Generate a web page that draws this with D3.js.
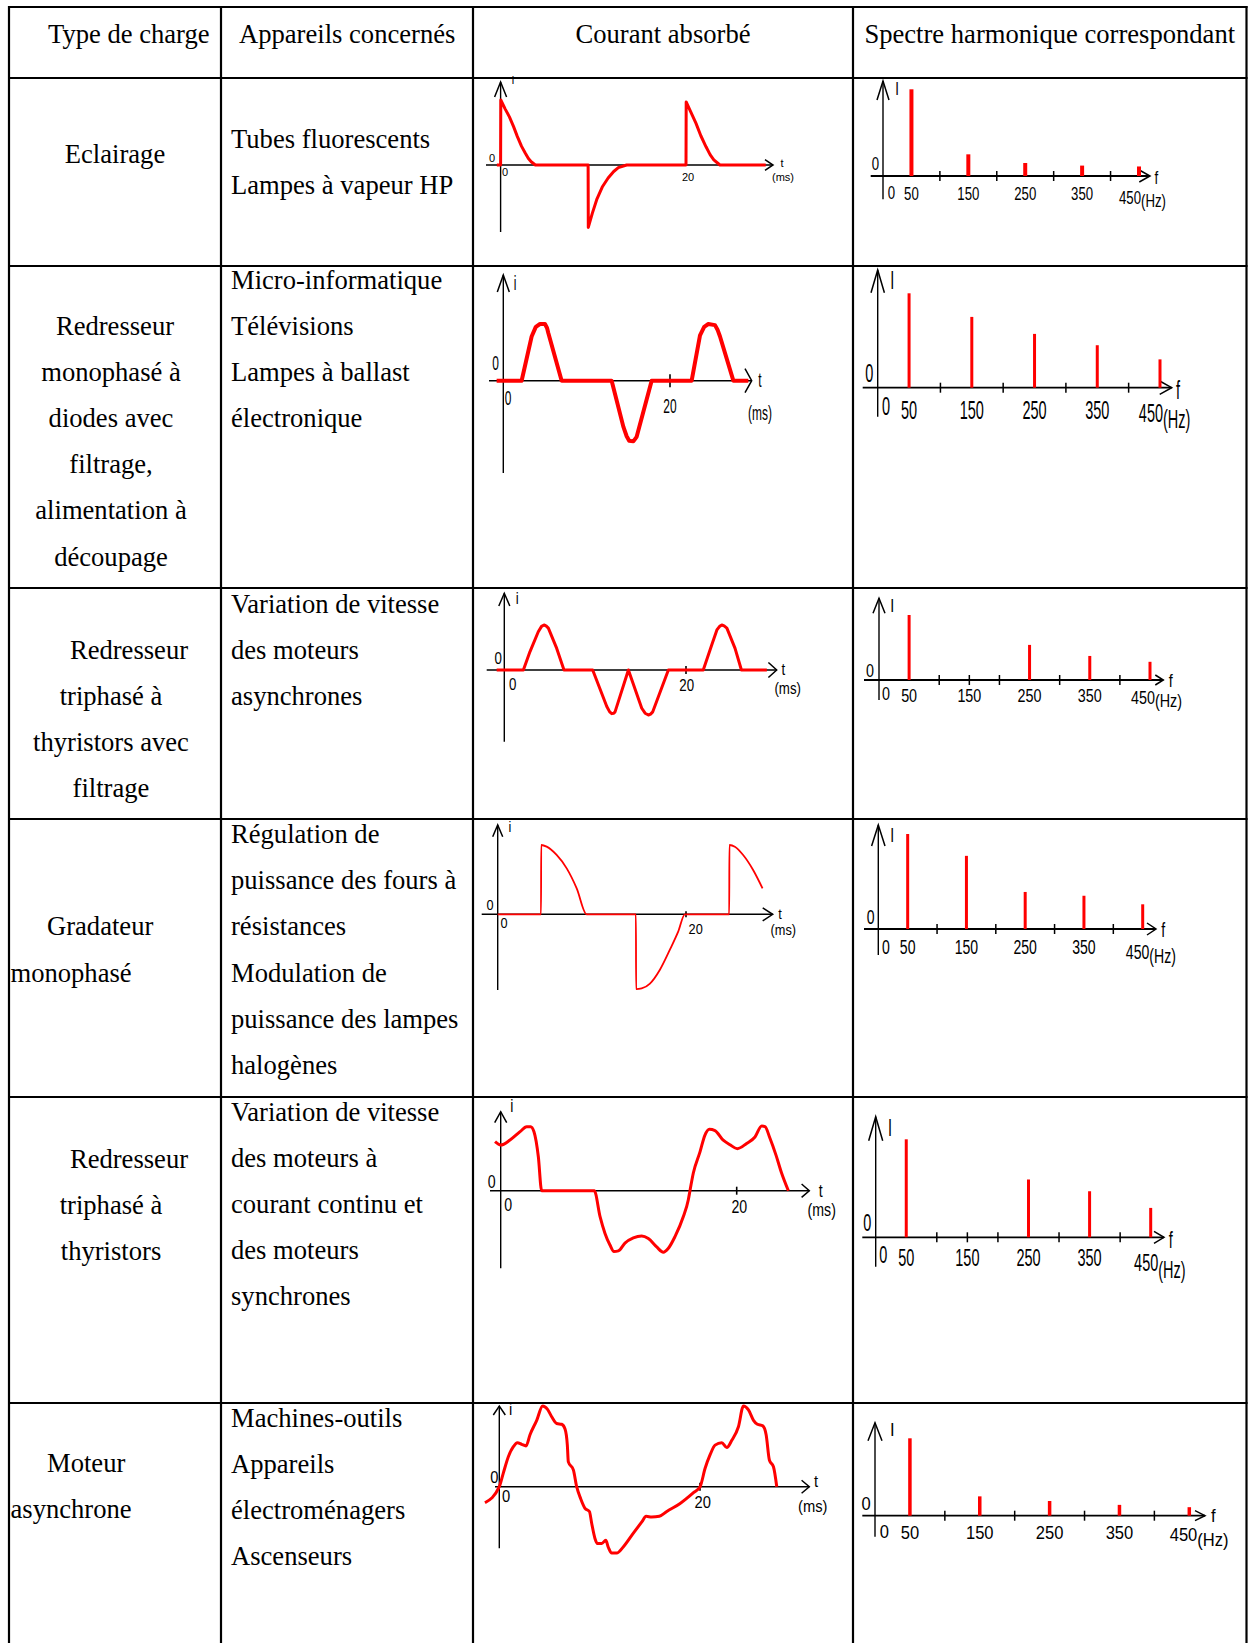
<!DOCTYPE html>
<html lang="fr">
<head>
<meta charset="utf-8">
<title>Courant absorbé et spectre harmonique</title>
<script src="https://cdn.jsdelivr.net/npm/d3@7"></script>
<style>
  body { margin: 0; background: #fff; }
  svg { display: block; }
  .txt { font-family: "Liberation Serif", "Times New Roman", serif; font-size: 26.6px; fill: #000; }
  .lab { font-family: "Liberation Sans", Arial, sans-serif; fill: #000; }
</style>
</head>
<body>
<svg id="chart"></svg>
<script>
// ---------- data ----------
const headers = ["Type de charge", "Appareils concernés", "Courant absorbé", "Spectre harmonique correspondant"];

const typesCharge = [
  ["Eclairage"],
  ["Redresseur", "monophasé à", "diodes avec", "filtrage,", "alimentation à", "découpage"],
  ["Redresseur", "triphasé à", "thyristors avec", "filtrage"],
  ["Gradateur", "monophasé"],
  ["Redresseur", "triphasé à", "thyristors"],
  ["Moteur", "asynchrone"]
];

const appareils = [
  ["Tubes fluorescents", "Lampes à vapeur HP"],
  ["Micro-informatique", "Télévisions", "Lampes à ballast", "électronique"],
  ["Variation de vitesse", "des moteurs", "asynchrones"],
  ["Régulation de", "puissance des fours à", "résistances", "Modulation de", "puissance des lampes", "halogènes"],
  ["Variation de vitesse", "des moteurs à", "courant continu et", "des moteurs", "synchrones"],
  ["Machines-outils", "Appareils", "électroménagers", "Ascenseurs"]
];

// courant absorbé : [t (ms), i (relatif)]
const courantEclairage = [
  [-0.4, 0], [0, 0], [0.02, 1], [0.5, 0.86], [0.95, 0.74], [1.4, 0.59], [1.8, 0.44], [2.25, 0.29], [2.67, 0.18],
  [3.0, 0.1], [3.3, 0.05], [3.75, 0],
  [9.44, 0], [9.46, -0.96], [9.9, -0.74], [10.4, -0.52], [11.0, -0.33], [11.6, -0.2], [12.2, -0.1], [12.7, -0.04], [13.6, 0],
  [20, 0], [20.02, 0.97], [20.5, 0.82], [21.08, 0.64], [21.6, 0.45], [22.16, 0.28], [22.6, 0.16], [23.0, 0.08], [23.66, 0], [28.6, 0]
];
const courantRedresseurMono = [
  [-0.8, 0], [2.2, 0], [3.4, 0.78], [3.9, 0.95], [4.4, 1.0], [5.0, 1.0], [5.25, 0.93], [5.4, 0.84], [7.0, 0],
  [13.0, 0], [14.4, -0.81], [14.8, -0.98], [15.1, -1.06], [15.6, -1.07], [16.0, -0.99], [17.8, 0],
  [22.6, 0], [23.6, 0.8], [24.1, 0.95], [24.6, 1.0], [25.4, 0.98], [25.7, 0.9], [26.0, 0.78], [27.6, 0], [29.4, 0]
];
const courantRedresseurTriFiltre = [
  [-0.84, 0], [2.1, 0], [2.83, 0.41], [3.74, 0.85], [4.1, 0.97], [4.37, 1.0], [4.6, 0.98], [4.85, 0.93], [5.77, 0.48], [6.57, 0],
  [9.73, 0], [11.28, -0.81], [11.6, -0.93], [11.83, -0.97], [12.05, -0.96], [12.19, -0.93], [13.66, 0],
  [15.13, -0.85], [15.5, -0.96], [15.86, -1.0], [16.1, -0.98], [16.34, -0.93], [18.06, 0],
  [21.9, 0], [22.84, 0.56], [23.4, 0.89], [23.7, 0.97], [23.94, 1.0], [24.2, 0.98], [24.5, 0.93], [25.4, 0.48], [26.1, 0], [28.9, 0]
];
const courantGradateur = [
  [0, 0], [4.6, 0], [4.62, 1.0], [5.2, 0.976], [6.26, 0.856], [7.33, 0.663], [8.39, 0.375], [9.45, 0],
  [14.68, 0], [14.7, -1.08], [15.29, -1.07], [16.17, -1.0], [17.23, -0.8], [18.29, -0.51], [19.17, -0.25], [19.88, 0],
  [24.59, 0], [24.61, 1.0], [25.19, 0.976], [26.07, 0.856], [27.13, 0.64], [28.13, 0.375]
];
const courantRedresseurThy = [
  [-0.48, 0.757], [0, 0.706], [0.79, 0.783], [1.64, 0.912], [2.2, 0.989], [2.54, 0.989], [2.82, 0.912], [3.19, 0.525], [3.47, 0],
  [7.93, 0], [8.42, -0.4], [8.84, -0.66], [9.26, -0.84], [9.6, -0.94], [9.97, -0.93], [10.53, -0.81], [11.24, -0.73],
  [11.95, -0.70], [12.51, -0.74], [13.22, -0.87], [13.78, -0.95], [14.21, -0.89], [14.77, -0.71], [15.48, -0.4],
  [15.9, -0.14], [16.04, 0], [16.32, 0.27], [16.89, 0.6], [17.31, 0.86], [17.68, 0.95], [18.16, 0.93], [18.86, 0.78],
  [19.43, 0.71], [20.05, 0.65], [20.84, 0.73], [21.55, 0.83], [22.12, 1.0], [22.4, 0.99], [22.82, 0.81], [23.33, 0.55],
  [23.81, 0.27], [24.38, 0]
];
const courantMoteur = [
  [-1.43, -0.2], [0, 0], [0.4, 0.17], [0.9, 0.375], [1.4, 0.5], [1.8, 0.55], [2.23, 0.53], [2.66, 0.51], [3.06, 0.65],
  [3.73, 0.83], [4.32, 1.01], [4.79, 0.97], [5.22, 0.875], [5.72, 0.79], [6.22, 0.78], [6.55, 0.72], [6.78, 0.52],
  [6.88, 0.31], [7.38, 0.21], [7.71, 0], [8.11, -0.15], [8.54, -0.27], [8.98, -0.31], [9.21, -0.46], [9.54, -0.65],
  [9.77, -0.71], [10.21, -0.71], [10.61, -0.67], [10.87, -0.76], [11.2, -0.83], [11.7, -0.83], [12.37, -0.75],
  [13.36, -0.58], [14.2, -0.44], [14.63, -0.37], [15.19, -0.38], [15.95, -0.37], [16.69, -0.31], [18.02, -0.21],
  [19.35, -0.075], [20.01, 0], [20.51, 0.23], [21.01, 0.4], [21.5, 0.52], [22.17, 0.55], [22.67, 0.49], [23.17, 0.58],
  [23.83, 0.75], [24.33, 1.01], [24.83, 0.96], [25.33, 0.83], [25.72, 0.78], [26.26, 0.76], [26.59, 0.65],
  [26.92, 0.33], [27.32, 0.25], [27.65, 0]
];
const courants = [courantEclairage, courantRedresseurMono, courantRedresseurTriFiltre,
                  courantGradateur, courantRedresseurThy, courantMoteur];

// spectres : amplitude de chaque rang en % du fondamental
const harmoniques = [50, 150, 250, 350, 450];
const harmoniqueLabels = ["50", "150", "250", "350", "450"];
const spectres = [
  [100, 25, 15, 12, 11],
  [100, 75, 57, 45, 30],
  [100, 0, 54, 37, 28],
  [100, 77, 39, 35, 26],
  [100, 0, 59, 47, 30],
  [100, 25, 19, 14, 11]
];
const spectreTicks = [
  [100, 200, 300, 400],
  [100, 200, 300, 400],
  [100, 150, 200, 300, 400],
  [100, 200, 300, 400],
  [100, 150, 200, 300, 400],
  [100, 200, 300, 400]
];

// ---------- layout ----------
const W = 1248, H = 1643;
const colX = [9, 221, 473, 853, 1246.5];
const rowY = [7, 78, 266, 588, 819, 1097, 1403];
const lineGap = 46.1;

const textLayout = [
  { y1: 163.3, y2: 148.3, left: false, dx0: 4 },
  { y1: 335, y2: 288.9, left: false, dx0: 4 },
  { y1: 658.8, y2: 612.7, left: false, dx0: 18 },
  { y1: 935.4, y2: 843.2, left: true },
  { y1: 1168.1, y2: 1120.9, left: false, dx0: 18 },
  { y1: 1472, y2: 1426.9, left: true }
];

const waveLayout = [
  { x0: 500.6, x20: 686, y0: 165, amp: 65, top: 82, bottom: 232, left: 486, tip: 773, lw: 3, tick: 0, smooth: false,
    vHead: [6, 15], hHead: [8, 5.3], font: 11, sx: 1,
    pos: { i: [513, 80], zl: [492, 158], zb: [505, 172], n20: [688, 177], t: [782, 163], ms: [783, 177] } },
  { x0: 503.3, x20: 670, y0: 380.7, amp: 56.7, top: 275, bottom: 473, left: 489, tip: 751.7, lw: 4, tick: 6.5, smooth: false,
    vHead: [6, 17], hHead: [6.7, 12], font: 21, sx: 0.57,
    pos: { i: [515, 283], zl: [495.7, 363], zb: [508, 398], n20: [670, 406.7], t: [760, 380], ms: [760, 413] } },
  { x0: 504.3, x20: 686, y0: 670, amp: 45, top: 593.3, bottom: 741.7, left: 486.7, tip: 776.7, lw: 3, tick: 4, smooth: false,
    vHead: [5.5, 12.7], hHead: [8.3, 7.5], font: 16, sx: 0.83,
    pos: { i: [517.3, 598.3], zl: [498.3, 658.3], zb: [512.7, 685], n20: [686.7, 686], t: [783.3, 670], ms: [787.7, 688.3] } },
  { x0: 497.7, x20: 686, y0: 914.3, amp: 69.3, top: 825, bottom: 990, left: 481.7, tip: 772.7, lw: 1.8, tick: 3, smooth: true,
    vHead: [5, 11.7], hHead: [10, 6.5], font: 15, sx: 0.85,
    pos: { i: [510, 826.7], zl: [490, 905], zb: [504, 922.7], n20: [695.7, 928.3], t: [780, 913.3], ms: [783.3, 929.3] } },
  { x0: 500.7, x20: 736.7, y0: 1190.7, amp: 64.7, top: 1111.7, bottom: 1268.3, left: 490, tip: 809.3, lw: 3, tick: 4, smooth: true,
    vHead: [6, 11], hHead: [7.7, 6.7], font: 17.7, sx: 0.8,
    pos: { i: [511.7, 1105], zl: [491.7, 1181.7], zb: [508.3, 1204], n20: [739.3, 1206], t: [820.7, 1190], ms: [821.7, 1209.3] } },
  { x0: 499.3, x20: 700, y0: 1486.7, amp: 80, top: 1406, bottom: 1548.3, left: 495, tip: 809.3, lw: 3, tick: 4, smooth: true,
    vHead: [6, 9], hHead: [7.7, 6.5], font: 16, sx: 0.92,
    pos: { i: [510.7, 1409], zl: [494.3, 1477.3], zb: [506, 1496], n20: [702.7, 1502.7], t: [816, 1481.7], ms: [812.7, 1506] } }
];

const specLayout = [
  { x0: 883, x450: 1139, y0: 176, fund: 89.3, top: 81, bottom: 199.3, left: 870.7, tip: 1150, bw: 4,
    vHead: [6, 19], hHead: [10.7, 6], font: 18.6, sx: 0.71, labY: 193, y450: 196.7, hzDx: 2, hzY: 200,
    pos: { I: [897, 88], zl: [875.5, 163], zb: [891.4, 191.7], f: [1156.4, 176.7] } },
  { x0: 877.7, x450: 1160, y0: 387.7, fund: 293.3, top: 270, bottom: 416.7, left: 862.7, tip: 1171.7, bw: 3,
    vHead: [6.7, 22.7], hHead: [12, 6.7], font: 25, sx: 0.58, labY: 410, y450: 413.3, hzDx: 3, hzY: 419.3,
    pos: { I: [892.3, 280], zl: [869.3, 373], zb: [886, 406.7], f: [1178, 390] } },
  { x0: 879, x450: 1150, y0: 680, fund: 615, top: 598.3, bottom: 700, left: 864, tip: 1163.3, bw: 3,
    vHead: [6, 15], hHead: [8, 5], font: 17.7, sx: 0.81, labY: 695, y450: 697.3, hzDx: 5, hzY: 700.7,
    pos: { I: [892.3, 605], zl: [870, 670], zb: [886, 693.3], f: [1170.7, 680] } },
  { x0: 878.3, x450: 1142.7, y0: 929, fund: 834, top: 825, bottom: 955, left: 864, tip: 1156, bw: 3,
    vHead: [6.7, 21], hHead: [9, 6], font: 21, sx: 0.67, labY: 947.3, y450: 951.7, hzDx: 6.6, hzY: 956,
    pos: { I: [892.3, 835], zl: [870.7, 917.3], zb: [886, 946.7], f: [1163.3, 930] } },
  { x0: 875.7, x450: 1150.7, y0: 1237.3, fund: 1139.3, top: 1116.7, bottom: 1266.7, left: 862.3, tip: 1164, bw: 3,
    vHead: [7, 24], hHead: [10, 6], font: 23, sx: 0.63, labY: 1258.3, y450: 1263.3, hzDx: 7.6, hzY: 1270,
    pos: { I: [890, 1128.3], zl: [867.3, 1223.3], zb: [883.3, 1255], f: [1170.7, 1240] } },
  { x0: 875, x450: 1189.3, y0: 1515.7, fund: 1438.3, top: 1422.7, bottom: 1536.7, left: 862.3, tip: 1205, bw: 3.5,
    vHead: [7, 18], hHead: [10, 5], font: 18.6, sx: 0.89, labY: 1532.7, y450: 1535, hzDx: 8, hzY: 1539.3,
    pos: { I: [892.3, 1429.3], zl: [866, 1504], zb: [884.3, 1531.7], f: [1213.3, 1516] } }
];

const RED = "#ff0000";

// ---------- drawing ----------
const svg = d3.select("#chart").attr("width", W).attr("height", H);

// small helper for the narrow sans labels
function label(g, text, x, y, L, anchor) {
  g.append("text")
    .attr("class", "lab")
    .attr("transform", `translate(${x},${y}) scale(${L.sx},1)`)
    .attr("text-anchor", anchor || "middle")
    .attr("dominant-baseline", "central")
    .attr("font-size", L.font)
    .text(text);
}

function arrows(g, xv, yh, L) {
  const [vw, vh] = L.vHead, [hb, hw] = L.hHead;
  g.append("path")
    .attr("d", `M${xv - vw},${L.top + vh}L${xv},${L.top}L${xv + vw},${L.top + vh}`)
    .attr("fill", "none").attr("stroke", "#000").attr("stroke-width", 1.5);
  g.append("path")
    .attr("d", `M${L.tip - hb},${yh - hw}L${L.tip},${yh}L${L.tip - hb},${yh + hw}`)
    .attr("fill", "none").attr("stroke", "#000").attr("stroke-width", 1.5);
}

function drawCourant(data, L) {
  const g = svg.append("g").attr("class", "courant");
  const x = d3.scaleLinear().domain([0, 20]).range([L.x0, L.x20]);
  const y = d3.scaleLinear().domain([-1, 1]).range([L.y0 + L.amp, L.y0 - L.amp]);

  g.append("line").attr("x1", x(0)).attr("x2", x(0)).attr("y1", L.top).attr("y2", L.bottom)
    .attr("stroke", "#000").attr("stroke-width", 1.4);
  g.append("line").attr("x1", L.left).attr("x2", L.tip).attr("y1", y(0)).attr("y2", y(0))
    .attr("stroke", "#000").attr("stroke-width", 1.6);
  arrows(g, x(0), y(0), L);
  if (L.tick) {
    g.append("line").attr("x1", x(20)).attr("x2", x(20))
      .attr("y1", y(0) - L.tick).attr("y2", y(0) + L.tick)
      .attr("stroke", "#000").attr("stroke-width", 1.6);
  }

  const line = d3.line()
    .x(d => x(d[0]))
    .y(d => y(d[1]))
    .curve(L.smooth ? d3.curveMonotoneX : d3.curveLinear);
  g.append("path").datum(data)
    .attr("d", line)
    .attr("fill", "none")
    .attr("stroke", RED)
    .attr("stroke-width", L.lw)
    .attr("stroke-linejoin", "round");

  const p = L.pos;
  label(g, "i", p.i[0], p.i[1], L);
  label(g, "0", p.zl[0], p.zl[1], L);
  label(g, "0", p.zb[0], p.zb[1], L);
  label(g, "20", p.n20[0], p.n20[1], L);
  label(g, "t", p.t[0], p.t[1], L);
  label(g, "(ms)", p.ms[0], p.ms[1], L);
}

function drawSpectre(vals, ticks, L) {
  const g = svg.append("g").attr("class", "spectre");
  const x = d3.scaleLinear().domain([0, 450]).range([L.x0, L.x450]);
  const y = d3.scaleLinear().domain([0, 100]).range([L.y0, L.fund]);

  g.append("line").attr("x1", x(0)).attr("x2", x(0)).attr("y1", L.top).attr("y2", L.bottom)
    .attr("stroke", "#000").attr("stroke-width", 1.4);
  g.append("line").attr("x1", L.left).attr("x2", L.tip).attr("y1", y(0)).attr("y2", y(0))
    .attr("stroke", "#000").attr("stroke-width", 1.8);
  arrows(g, x(0), y(0), L);

  g.selectAll("line.tick").data(ticks).enter().append("line")
    .attr("class", "tick")
    .attr("x1", d => x(d)).attr("x2", d => x(d))
    .attr("y1", y(0) - 5).attr("y2", y(0) + 5)
    .attr("stroke", "#000").attr("stroke-width", 1.5);

  const bars = harmoniques.map((f, i) => ({ f: f, v: vals[i] })).filter(d => d.v > 0);
  g.selectAll("line.bar").data(bars).enter().append("line")
    .attr("class", "bar")
    .attr("x1", d => x(d.f)).attr("x2", d => x(d.f))
    .attr("y1", y(0)).attr("y2", d => y(d.v))
    .attr("stroke", RED).attr("stroke-width", L.bw);

  const p = L.pos;
  label(g, "I", p.I[0], p.I[1], L);
  label(g, "0", p.zl[0], p.zl[1], L);
  label(g, "0", p.zb[0], p.zb[1], L);
  label(g, "f", p.f[0], p.f[1], L);
  harmoniqueLabels.forEach((t, i) => {
    if (i < harmoniques.length - 1) {
      label(g, t, x(harmoniques[i]), L.labY, L);
    } else {
      label(g, t, x(harmoniques[i]) + L.hzDx, L.y450, L, "end");
      label(g, "(Hz)", x(harmoniques[i]) + L.hzDx, L.hzY, L, "start");
    }
  });
}

// header
const hdr = svg.append("g").attr("class", "txt");
hdr.append("text").attr("x", 48).attr("y", 43).text(headers[0]);
hdr.append("text").attr("x", 239).attr("y", 43).text(headers[1]);
hdr.append("text").attr("x", (colX[2] + colX[3]) / 2).attr("y", 43).attr("text-anchor", "middle").text(headers[2]);
hdr.append("text").attr("x", (colX[3] + colX[4]) / 2).attr("y", 43).attr("text-anchor", "middle").text(headers[3]);

// body text
typesCharge.forEach((lines, r) => {
  const T = textLayout[r];
  const g = svg.append("g").attr("class", "txt");
  lines.forEach((s, k) => {
    const t = g.append("text").attr("y", T.y1 + k * lineGap).text(s);
    if (T.left) {
      t.attr("x", k === 0 ? 47 : 10.5);
    } else {
      t.attr("x", 111 + (k === 0 ? T.dx0 : 0)).attr("text-anchor", "middle");
    }
  });
  appareils[r].forEach((s, k) => {
    g.append("text").attr("x", 231).attr("y", T.y2 + k * lineGap).text(s);
  });
});

// charts
courants.forEach((c, r) => drawCourant(c, waveLayout[r]));
spectres.forEach((s, r) => drawSpectre(s, spectreTicks[r], specLayout[r]));

// table grid
const grid = svg.append("g").attr("class", "grid");
grid.selectAll("line.h").data(rowY).enter().append("line")
  .attr("class", "h")
  .attr("x1", colX[0] - 1).attr("x2", colX[4] + 1)
  .attr("y1", d => d).attr("y2", d => d)
  .attr("stroke", "#000").attr("stroke-width", 2.2);
grid.selectAll("line.v").data(colX).enter().append("line")
  .attr("class", "v")
  .attr("x1", d => d).attr("x2", d => d)
  .attr("y1", rowY[0] - 1).attr("y2", H)
  .attr("stroke", "#000").attr("stroke-width", 2.2);
</script>
</body>
</html>
